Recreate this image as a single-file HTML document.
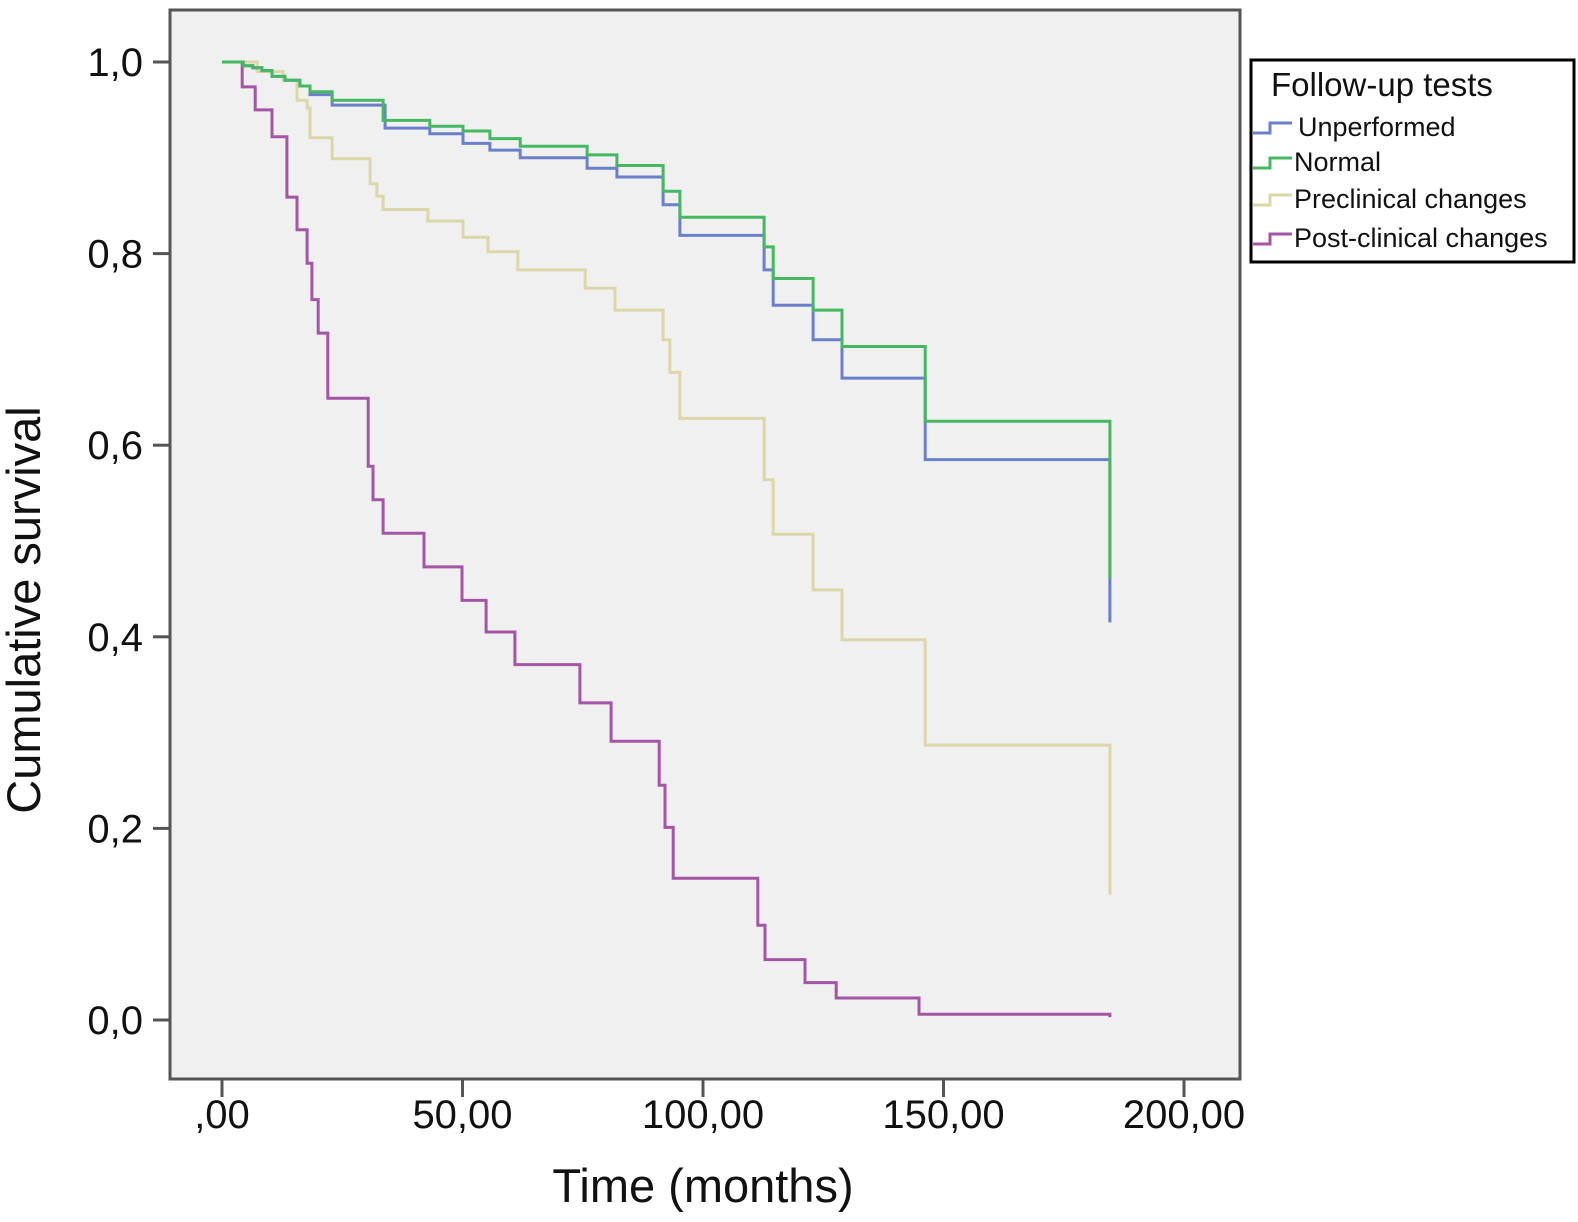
<!DOCTYPE html>
<html><head><meta charset="utf-8"><style>
html,body{margin:0;padding:0;background:#fff;}
svg{display:block;font-family:"Liberation Sans",Arial,sans-serif;}
</style></head><body>
<svg id="chart" width="1578" height="1222" viewBox="0 0 1578 1222">
<rect x="170" y="10" width="1070" height="1069" fill="#f0f0f0" stroke="#555" stroke-width="3"/>
<g id="axes"></g>
<g id="series"></g>
<text x="40" y="610" font-size="47" text-anchor="middle" transform="rotate(-90 40 610)" fill="#111">Cumulative survival</text>
<text x="703" y="1202" font-size="47" text-anchor="middle" fill="#111">Time (months)</text>
<g>
<rect x="1251" y="60" width="323" height="202" fill="#fff" stroke="#000" stroke-width="3"/>
<text x="1271" y="96" font-size="33" fill="#111">Follow-up tests</text>
<g id="legend-entries"></g>
</g>
</svg>
<script>
const xTicks=[0,50,100,150,200];
const xTickLabels=[",00","50,00","100,00","150,00","200,00"];
const yTicks=[0,0.2,0.4,0.6,0.8,1.0];
const yTickLabels=["0,0","0,2","0,4","0,6","0,8","1,0"];
const seriesNames=["Unperformed","Normal","Preclinical changes","Post-clinical changes"];
const seriesColors=["#6b7fca","#46b862","#dcd6a8","#a455a6"];
const unperfT=[0,4.4,6.4,8.3,10.4,13.1,16.2,18.3,22.9,33.9,43.2,50.1,55.7,62,75.9,82.1,91.7,95.2,112.7,114.6,122.9,128.9,146.2,184.6];
const unperfS=[1,.996,.994,.991,.985,.981,.975,.966,.955,.931,.925,.915,.908,.900,.889,.880,.851,.819,.783,.746,.710,.670,.585,.415];
const normalT=[0,4.4,6.4,8.3,10.4,13.1,16.2,18.3,22.9,33.5,43.2,50.1,55.7,62,75.9,82.1,91.7,95.2,112.7,114.6,122.9,128.9,146.2,184.6];
const normalS=[1,.996,.994,.991,.985,.981,.975,.969,.960,.939,.933,.928,.920,.912,.903,.892,.865,.838,.807,.774,.741,.703,.625,.461];
const preT=[0,7.3,12.7,15.6,17.7,18.3,22.9,30.8,32.2,33.5,42.8,50.1,55.3,61.5,75.5,81.7,91.7,93.1,95.2,112.7,114.6,122.9,128.9,146.2,184.6];
const preS=[1,.990,.981,.960,.952,.921,.899,.873,.860,.846,.834,.817,.802,.783,.764,.741,.710,.676,.628,.564,.507,.449,.397,.287,.131];
const postT=[0,4.2,6.9,10.4,13.5,15.6,17.7,18.7,20,22,30.4,31.4,33.5,42,49.9,54.9,60.9,74.4,80.9,90.9,92.1,93.8,111.4,112.9,121.2,127.7,144.9,184.6];
const postS=[1,.974,.950,.922,.859,.825,.79,.752,.717,.649,.578,.543,.508,.473,.438,.405,.371,.331,.291,.245,.201,.148,.099,.063,.039,.023,.006,.003];
const allT=[unperfT,normalT,preT,postT];
const allS=[unperfS,normalS,preS,postS];

const NS="http://www.w3.org/2000/svg";
const xS=t=>222+t*4.81;
const yS=s=>1020-s*958;
const axes=document.getElementById('axes');
xTicks.forEach((t,i)=>{
  const l=document.createElementNS(NS,'line');
  l.setAttribute('x1',xS(t));l.setAttribute('x2',xS(t));l.setAttribute('y1',1080);l.setAttribute('y2',1097);
  l.setAttribute('stroke','#555');l.setAttribute('stroke-width','3');
  
  
  axes.appendChild(l);
  const tx=document.createElementNS(NS,'text');
  tx.setAttribute('x',xS(t));tx.setAttribute('y',1128);tx.setAttribute('font-size','40');
  tx.setAttribute('text-anchor','middle');tx.setAttribute('fill','#111');
  tx.textContent=xTickLabels[i];
  
  
  axes.appendChild(tx);
});
yTicks.forEach((v,i)=>{
  const l=document.createElementNS(NS,'line');
  l.setAttribute('x1',153);l.setAttribute('x2',169);l.setAttribute('y1',yS(v));l.setAttribute('y2',yS(v));
  l.setAttribute('stroke','#555');l.setAttribute('stroke-width','3');
  
  
  axes.appendChild(l);
  const tx=document.createElementNS(NS,'text');
  tx.setAttribute('x',143);tx.setAttribute('y',yS(v)+14);tx.setAttribute('font-size','40');
  tx.setAttribute('text-anchor','end');tx.setAttribute('fill','#111');
  tx.textContent=yTickLabels[i];
  
  
  axes.appendChild(tx);
});
const sg=document.getElementById('series');
const order=[2,3,0,1];
order.forEach(k=>{
  const T=allT[k],S=allS[k];
  let d='M'+xS(T[0])+','+yS(S[0]);
  for(let i=1;i<T.length;i++){
    d+=' H'+xS(T[i]).toFixed(1)+' V'+yS(S[i]).toFixed(1);
  }
  const p=document.createElementNS(NS,'path');
  p.setAttribute('d',d);p.setAttribute('fill','none');
  p.setAttribute('stroke',seriesColors[k]);p.setAttribute('stroke-width','3');
  
  
  sg.appendChild(p);
});
const lg=document.getElementById('legend-entries');
const ly=[127,162,199,238];
seriesNames.forEach((n,i)=>{
  const y=ly[i];
  const p=document.createElementNS(NS,'path');
  p.setAttribute('d','M1253,'+(y+6)+' H1270 V'+(y-4)+' H1292');
  p.setAttribute('fill','none');p.setAttribute('stroke',seriesColors[i]);p.setAttribute('stroke-width','3');
  
  
  lg.appendChild(p);
  const t=document.createElementNS(NS,'text');
  t.setAttribute('x',i===0?1298:1294);t.setAttribute('y',y+9);t.setAttribute('font-size','27');t.setAttribute('fill','#111');
  t.textContent=n;
  
  
  lg.appendChild(t);
});
</script>
</body></html>
